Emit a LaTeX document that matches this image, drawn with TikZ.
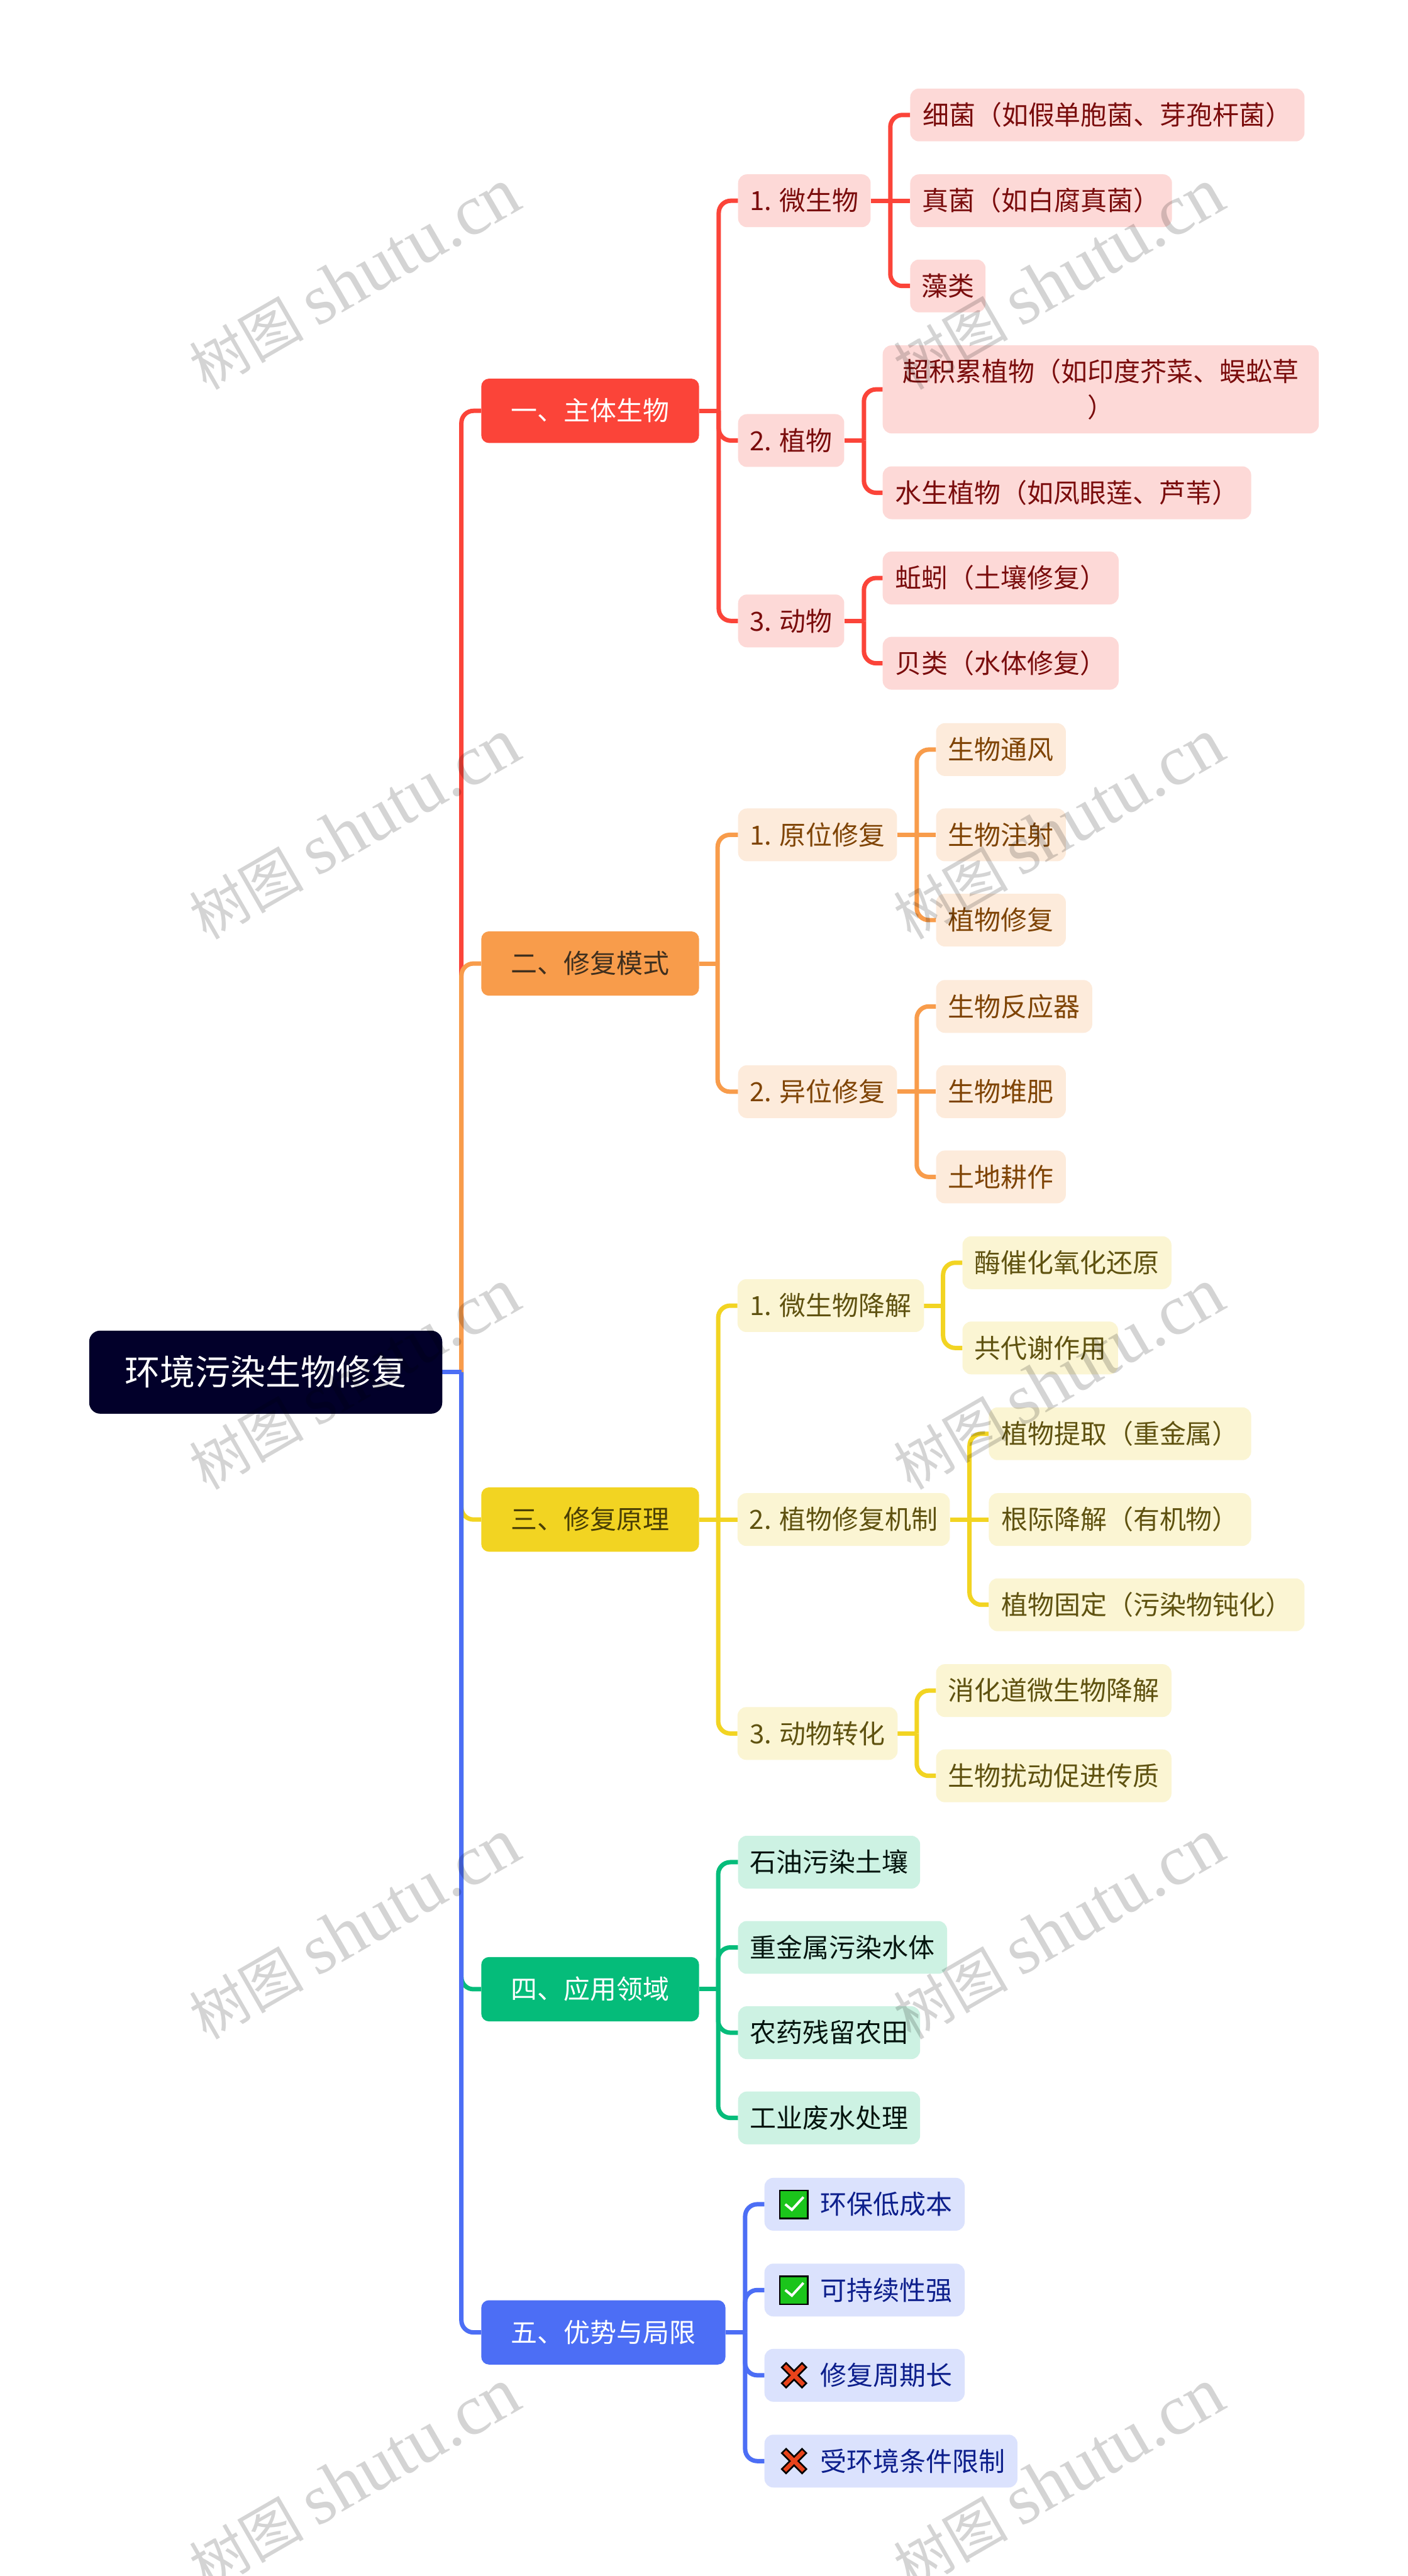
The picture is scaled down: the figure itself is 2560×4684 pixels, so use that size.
\documentclass[tikz,border=0pt]{standalone}
\usepackage{fontspec}
\setmainfont{Noto Sans CJK SC}
\newfontfamily\wmlatin{Liberation Serif}
\usetikzlibrary{backgrounds,calc}
\definecolor{rM}{HTML}{FB4439}\definecolor{rL}{HTML}{FDD9D7}\definecolor{rT}{HTML}{7A0C0C}\definecolor{rH}{HTML}{FFFFFF}
\definecolor{oM}{HTML}{F89C4B}\definecolor{oL}{HTML}{FDEBDB}\definecolor{oT}{HTML}{7F4405}\definecolor{oH}{HTML}{3F2F1E}
\definecolor{yM}{HTML}{F2D422}\definecolor{yL}{HTML}{FBF5D3}\definecolor{yT}{HTML}{5F5210}\definecolor{yH}{HTML}{4A3F05}
\definecolor{gM}{HTML}{05BC7A}\definecolor{gL}{HTML}{CDF2E3}\definecolor{gT}{HTML}{04140E}\definecolor{gH}{HTML}{FFFFFF}
\definecolor{bM}{HTML}{4C6EF5}\definecolor{bL}{HTML}{DBE2FD}\definecolor{bT}{HTML}{0D1F8C}\definecolor{bH}{HTML}{FFFFFF}
\definecolor{rootc}{HTML}{02002A}
\definecolor{wmc}{HTML}{D4D4D4}
\definecolor{okc}{HTML}{1BC51B}
\definecolor{noc}{HTML}{E8431B}
\tikzset{
  basebox/.style={rectangle,inner sep=0pt,anchor=west,align=center,font=\fontsize{48}{66}\selectfont},
  onel/.style={text height=42pt,text depth=6pt},
  leaf/.style={basebox,onel,rounded corners=16pt,fill=#1L,text=#1T},
  leafm/.style={basebox,rounded corners=16pt,fill=#1L,text=#1T},
  head/.style={basebox,onel,rounded corners=14pt,fill=#1M,text=#1H},
  rootbox/.style={basebox,rounded corners=20pt,fill=rootc,text=white,font=\fontsize{64}{76}\selectfont,text height=56pt,text depth=8pt},
  link/.style={draw=#1M,line width=8pt},
  wmark/.style={text=wmc,rotate=30,font=\fontsize{104}{130}\selectfont,inner sep=0pt},
}
% name, x left, y centre, width, height, style, text
\newcommand{\mmn}[7]{\node[#6,minimum width=#4pt,minimum height=#5pt] (#1) at (#2,#3) {#7};}
% colour, mid coordinate, parent, child
\newcommand{\mcn}[4]{\draw[link=#1] (#3.east) -- (#2|-#3.east);\draw[link=#1,rounded corners=22pt] (#2|-#3.east) -- (#2|-#4.west) -- (#4.west);}
\newcommand{\mcs}[3]{\draw[link=#1] (#2.east) -- (#3.west);}
\newcommand{\mok}[1]{\begin{scope}[shift={(#1.west)}]
  \draw[fill=okc,draw=black,line width=3pt] (28,-25) rectangle (79,26);
  \draw[white,line width=4.5pt] (38,0) -- (50,10) -- (71,-13);
\end{scope}}
\newcommand{\mno}[1]{\begin{scope}[shift={(#1.west)}]
  \draw[fill=noc,draw=black,line width=3pt,shift={(54,0)},rotate=45] (-5.5,-26) -- (5.5,-26) -- (5.5,-5.5) -- (26,-5.5) -- (26,5.5) -- (5.5,5.5) -- (5.5,26) -- (-5.5,26) -- (-5.5,5.5) -- (-26,5.5) -- (-26,-5.5) -- (-5.5,-5.5) -- cycle;
\end{scope}}
\begin{document}
\begin{tikzpicture}[x=1pt,y=-1pt]
\useasboundingbox (0,0) rectangle (2560,4684);
% mid lines
\coordinate (m0) at (839,0);
\coordinate (mr) at (1307,0);
\coordinate (mra) at (1619,0);
\coordinate (mrb) at (1571,0);
\coordinate (mo) at (1305,0);
\coordinate (moa) at (1667,0);
\coordinate (my) at (1306,0);
\coordinate (mya) at (1715,0);
\coordinate (myb) at (1763,0);
\coordinate (myc) at (1667,0);
\coordinate (mg) at (1306,0);
\coordinate (mb) at (1355,0);
% root
\mmn{root}{162}{2495}{642}{151}{rootbox}{环境污染生物修复}
% red
\mmn{h1}{875}{747}{396}{117}{head=r}{一、主体生物}
\mmn{r1}{1342}{365}{241}{96}{leaf=r}{1. 微生物}
\mmn{r2}{1342}{801}{193}{96}{leaf=r}{2. 植物}
\mmn{r3}{1342}{1129}{193}{96}{leaf=r}{3. 动物}
\mmn{r11}{1655}{209}{717}{96}{leaf=r}{细菌（如假单胞菌、芽孢杆菌）}
\mmn{r12}{1655}{365}{476}{96}{leaf=r}{真菌（如白腐真菌）}
\mmn{r13}{1655}{520}{137}{96}{leaf=r}{藻类}
\mmn{r21}{1605}{708}{793}{160}{leafm=r}{超积累植物（如印度芥菜、蜈蚣草\\）}
\mmn{r22}{1605}{896}{670}{96}{leaf=r}{水生植物（如凤眼莲、芦苇）}
\mmn{r31}{1605}{1051}{429}{96}{leaf=r}{蚯蚓（土壤修复）}
\mmn{r32}{1605}{1206}{429}{96}{leaf=r}{贝类（水体修复）}
% orange
\mmn{h2}{875}{1752}{396}{117}{head=o}{二、修复模式}
\mmn{o1}{1342}{1518}{289}{96}{leaf=o}{1. 原位修复}
\mmn{o2}{1342}{1985}{289}{96}{leaf=o}{2. 异位修复}
\mmn{o11}{1702}{1363}{236}{96}{leaf=o}{生物通风}
\mmn{o12}{1702}{1518}{236}{96}{leaf=o}{生物注射}
\mmn{o13}{1702}{1673}{236}{96}{leaf=o}{植物修复}
\mmn{o21}{1702}{1830}{284}{96}{leaf=o}{生物反应器}
\mmn{o22}{1702}{1985}{236}{96}{leaf=o}{生物堆肥}
\mmn{o23}{1702}{2140}{236}{96}{leaf=o}{土地耕作}
% yellow
\mmn{h3}{875}{2763}{396}{117}{head=y}{三、修复原理}
\mmn{y1}{1341}{2374}{339}{96}{leaf=y}{1. 微生物降解}
\mmn{y2}{1341}{2763}{386}{96}{leaf=y}{2. 植物修复机制}
\mmn{y3}{1341}{3152}{291}{96}{leaf=y}{3. 动物转化}
\mmn{y11}{1750}{2296}{380}{96}{leaf=y}{酶催化氧化还原}
\mmn{y12}{1750}{2451}{283}{96}{leaf=y}{共代谢作用}
\mmn{y21}{1798}{2607}{477}{96}{leaf=y}{植物提取（重金属）}
\mmn{y22}{1798}{2763}{477}{96}{leaf=y}{根际降解（有机物）}
\mmn{y23}{1798}{2918}{574}{96}{leaf=y}{植物固定（污染物钝化）}
\mmn{y31}{1702}{3074}{428}{96}{leaf=y}{消化道微生物降解}
\mmn{y32}{1702}{3229}{428}{96}{leaf=y}{生物扰动促进传质}
% green
\mmn{h4}{875}{3617}{396}{117}{head=g}{四、应用领域}
\mmn{g1}{1342}{3386}{331}{96}{leaf=g}{石油污染土壤}
\mmn{g2}{1342}{3541}{380}{96}{leaf=g}{重金属污染水体}
\mmn{g3}{1342}{3696}{331}{96}{leaf=g}{农药残留农田}
\mmn{g4}{1342}{3851}{331}{96}{leaf=g}{工业废水处理}
% blue
\mmn{h5}{875}{4241}{444}{117}{head=b}{五、优势与局限}
\mmn{b1}{1390}{4008}{364}{96}{leaf=b}{\hspace*{80pt}环保低成本}
\mmn{b2}{1390}{4164}{364}{96}{leaf=b}{\hspace*{80pt}可持续性强}
\mmn{b3}{1390}{4319}{364}{96}{leaf=b}{\hspace*{80pt}修复周期长}
\mmn{b4}{1390}{4475}{460}{96}{leaf=b}{\hspace*{80pt}受环境条件限制}
\mok{b1}\mok{b2}\mno{b3}\mno{b4}
% connectors
\begin{pgfonlayer}{background}
\fill[white] (0,0) rectangle (2560,4684);
\mcn{r}{m0}{root}{h1}
\mcn{r}{mr}{h1}{r1}\mcn{r}{mr}{h1}{r2}\mcn{r}{mr}{h1}{r3}
\mcn{r}{mra}{r1}{r11}\mcs{r}{r1}{r12}\mcn{r}{mra}{r1}{r13}
\mcn{r}{mrb}{r2}{r21}\mcn{r}{mrb}{r2}{r22}
\mcn{r}{mrb}{r3}{r31}\mcn{r}{mrb}{r3}{r32}
\mcn{o}{m0}{root}{h2}
\mcn{o}{mo}{h2}{o1}\mcn{o}{mo}{h2}{o2}
\mcn{o}{moa}{o1}{o11}\mcs{o}{o1}{o12}\mcn{o}{moa}{o1}{o13}
\mcn{o}{moa}{o2}{o21}\mcs{o}{o2}{o22}\mcn{o}{moa}{o2}{o23}
\mcn{y}{m0}{root}{h3}
\mcn{y}{my}{h3}{y1}\mcs{y}{h3}{y2}\mcn{y}{my}{h3}{y3}
\mcn{y}{mya}{y1}{y11}\mcn{y}{mya}{y1}{y12}
\mcn{y}{myb}{y2}{y21}\mcs{y}{y2}{y22}\mcn{y}{myb}{y2}{y23}
\mcn{y}{myc}{y3}{y31}\mcn{y}{myc}{y3}{y32}
\mcn{g}{m0}{root}{h4}
\mcn{g}{mg}{h4}{g1}\mcn{g}{mg}{h4}{g2}\mcn{g}{mg}{h4}{g3}\mcn{g}{mg}{h4}{g4}
\mcn{b}{m0}{root}{h5}
\mcn{b}{mb}{h5}{b1}\mcn{b}{mb}{h5}{b2}\mcn{b}{mb}{h5}{b3}\mcn{b}{mb}{h5}{b4}
\end{pgfonlayer}
% watermark
\begin{scope}[blend mode=multiply]
\clip (0,0) rectangle (2560,4684);
\foreach \wy in {508,1508,2508,3508,4508}{
  \node[wmark,name=wa\wy] at (645,\wy) {树图 {\wmlatin\fontsize{130}{130}\selectfont shutu.cn}};
  \node[wmark,name=wb\wy] at (1925,\wy) {树图 {\wmlatin\fontsize{130}{130}\selectfont shutu.cn}};
}
\end{scope}
\end{tikzpicture}
\end{document}
